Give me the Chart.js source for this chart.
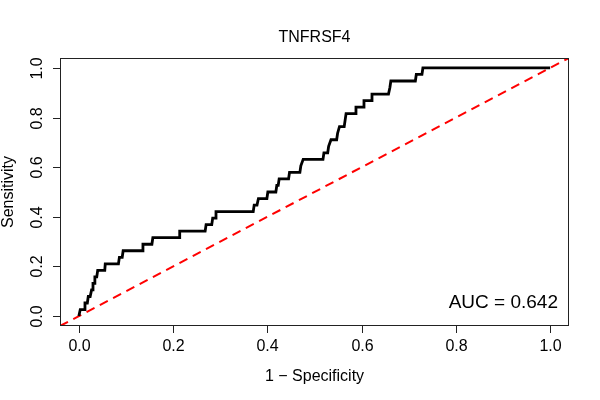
<!DOCTYPE html>
<html>
<head>
<meta charset="utf-8">
<script src="https://cdn.jsdelivr.net/npm/chart.js@4.4.1/dist/chart.umd.min.js"></script>
<style>
html,body{margin:0;padding:0;background:#fff;}
#wrap{width:600px;height:400px;}
</style>
</head>
<body>
<div id="wrap"><canvas id="c" width="600" height="400"></canvas></div>
<script>
// ROC curve vertices: 1 - specificity (x) and sensitivity (y = cases / 38)
const fpr = [0.000,0.003,0.011,0.013,0.018,0.020,0.024,0.027,0.029,0.030,0.033,0.034,0.038,0.040,0.055,0.056,0.084,0.086,0.092,0.094,0.135,0.136,0.155,0.157,0.213,0.214,0.268,0.270,0.282,0.284,0.289,0.291,0.370,0.372,0.378,0.381,0.399,0.401,0.418,0.420,0.423,0.425,0.445,0.447,0.469,0.471,0.476,0.518,0.520,0.528,0.530,0.535,0.547,0.549,0.553,0.563,0.565,0.567,0.586,0.588,0.603,0.605,0.620,0.622,0.657,0.660,0.662,0.714,0.716,0.728,0.730,1.000];
const casesDetected = [0,1,1,2,2,3,3,4,4,5,5,6,6,7,7,8,8,9,9,10,10,11,11,12,12,13,13,14,14,15,15,16,16,17,17,18,18,19,19,20,20,21,21,22,22,23,24,24,25,25,26,27,27,28,29,29,30,31,31,32,32,33,33,34,34,35,36,36,37,37,38,38];
const nCases = 38;
const tickValues = [0, 0.2, 0.4, 0.6, 0.8, 1.0];
const tickLabels = ["0.0", "0.2", "0.4", "0.6", "0.8", "1.0"];
const titleText = "TNFRSF4";
const xLabel = "1 \u2212 Specificity";
const yLabel = "Sensitivity";
const aucText = "AUC = 0.642";
const axisMin = -0.04, axisMax = 1.04;

const rocPoints = fpr.map((x, i) => ({x: x, y: casesDetected[i] / nCases}));
const diagPoints = [{x: axisMin, y: axisMin}, {x: axisMax, y: axisMax}];

const FONT = '"Liberation Sans", Arial, Helvetica, sans-serif';

const decor = {
  id: 'decor',
  afterDraw(chart) {
    const ctx = chart.ctx;
    const a = chart.chartArea;
    const xs = chart.scales.x, ys = chart.scales.y;
    ctx.save();
    // box
    ctx.strokeStyle = '#222';
    ctx.lineWidth = 1;
    ctx.strokeRect(Math.round(a.left) + 0.5, Math.round(a.top) + 0.5,
                   Math.round(a.right - a.left) - 1, Math.round(a.bottom - a.top) - 1);
    ctx.fillStyle = '#000';
    ctx.font = '16px ' + FONT;
    // x ticks
    ctx.textAlign = 'center';
    ctx.textBaseline = 'middle';
    tickValues.forEach((v, i) => {
      const px = Math.round(xs.getPixelForValue(v)) + 0.5;
      ctx.beginPath();
      ctx.moveTo(px, a.bottom);
      ctx.lineTo(px, a.bottom + 7);
      ctx.stroke();
      ctx.fillText(tickLabels[i], px, a.bottom + 21);
    });
    // y ticks
    tickValues.forEach((v, i) => {
      const py = Math.round(ys.getPixelForValue(v)) + 0.5;
      ctx.beginPath();
      ctx.moveTo(a.left - 7, py);
      ctx.lineTo(a.left, py);
      ctx.stroke();
      ctx.save();
      ctx.translate(a.left - 22, py);
      ctx.rotate(-Math.PI / 2);
      ctx.fillText(tickLabels[i], 0, 0);
      ctx.restore();
    });
    const cx = (a.left + a.right) / 2;
    const cy = (a.top + a.bottom) / 2;
    // title
    ctx.font = '16px ' + FONT;
    ctx.fillText(titleText, cx, 38);
    // x label
    ctx.fillText(xLabel, cx, a.bottom + 51);
    // y label
    ctx.save();
    ctx.translate(9, cy);
    ctx.rotate(-Math.PI / 2);
    ctx.fillText(yLabel, 0, 0);
    ctx.restore();
    // AUC
    ctx.font = '19px ' + FONT;
    ctx.textAlign = 'right';
    ctx.fillText(aucText, a.right - 11, a.bottom - 23);
    ctx.restore();
  }
};

new Chart(document.getElementById('c'), {
  type: 'scatter',
  data: {
    datasets: [
      {
        data: diagPoints,
        showLine: true,
        borderColor: '#ff0000',
        borderWidth: 2,
        borderDash: [9, 6],
        pointRadius: 0,
        tension: 0,
        order: 2
      },
      {
        data: rocPoints,
        showLine: true,
        borderColor: '#000000',
        borderWidth: 2.8,
        pointRadius: 0,
        tension: 0,
        borderJoinStyle: 'miter',
        order: 1
      }
    ]
  },
  options: {
    responsive: false,
    animation: false,
    devicePixelRatio: 1,
    layout: { padding: { left: 60, right: 31, top: 58, bottom: 74 } },
    plugins: { legend: { display: false }, tooltip: { enabled: false }, title: { display: false } },
    scales: {
      x: { type: 'linear', min: axisMin, max: axisMax, display: false },
      y: { type: 'linear', min: axisMin, max: axisMax, display: false }
    }
  },
  plugins: [decor]
});
</script>
</body>
</html>
